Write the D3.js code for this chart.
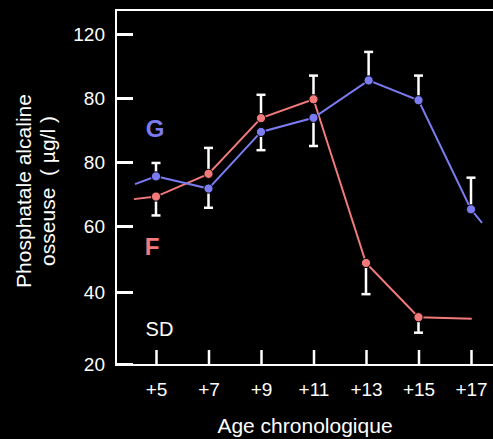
<!DOCTYPE html>
<html><head><meta charset="utf-8">
<script src="https://cdn.jsdelivr.net/npm/d3@7"></script>
<style>
html,body{margin:0;padding:0;background:#000;}
svg{display:block;font-family:"Liberation Sans",Arial,Helvetica,sans-serif;}
</style></head>
<body>
<svg id="chart" width="493" height="439"></svg>
<script>
// ---- data ----
const xTickValues = [5, 7, 9, 11, 13, 15, 17];
const xTickLabels = ["+5", "+7", "+9", "+11", "+13", "+15", "+17"];
const yTickValues = [120, 100, 80, 60, 40, 20];
const yTickLabels = ["120", "80", "80", "60", "40", "20"];

const gAges   = [5, 7, 9, 11, 13.1, 15, 17];
const gValues = [75.5, 71.7, 89.4, 93.8, 105.5, 99.3, 65.2];
const gSD     = [4.2, 6.0, 5.7, 8.8, 8.9, 7.7, 9.9];
const gSDDir  = [1, -1, -1, -1, 1, 1, 1];
const gLineStart = [4.2, 73.1];
const gLineEnd   = [17.42, 61.0];

const fAges   = [5, 7, 9, 11, 13, 15];
const fValues = [69.2, 76.3, 93.7, 99.6, 48.8, 33.0];
const fSD     = [5.9, 8.1, 7.3, 7.4, 9.4, 4.3];
const fSDDir  = [-1, 1, 1, 1, -1, -1];
const fLineStart = [4.16, 68.4];
const fLineEnd   = [17.03, 32.6];

const xTitle = "Age chronologique";
const yTitle = ["Phosphatale alcaline", "osseuse\u00a0\u00a0(\u00a0µg/l\u00a0)"];
const blue = "#7b7bf2", red = "#f27a7a";

// ---- scales ----
const x = d3.scaleLinear().domain([5, 17]).range([156, 471]);
const y = d3.scaleLinear().domain([20, 40, 60, 80, 100, 120]).range([364, 292, 226, 162, 98, 34]);

const svg = d3.select("#chart");
svg.append("rect").attr("width", 493).attr("height", 439).attr("fill", "#000");

const plotLeft = 116, plotTop = 10, plotBottom = 365;

// frame lines
svg.append("line").attr("x1", plotLeft).attr("x2", 493).attr("y1", plotTop).attr("y2", plotTop)
  .attr("stroke", "#fff").attr("stroke-width", 2);
svg.append("line").attr("x1", plotLeft).attr("x2", plotLeft).attr("y1", plotTop - 1).attr("y2", plotBottom + 1)
  .attr("stroke", "#fff").attr("stroke-width", 2);
svg.append("line").attr("x1", plotLeft - 1).attr("x2", 493).attr("y1", plotBottom).attr("y2", plotBottom)
  .attr("stroke", "#fff").attr("stroke-width", 2);

// y axis
const yAxis = d3.axisLeft(y).tickValues(yTickValues)
  .tickFormat((d, i) => yTickLabels[i]).tickSizeInner(-17).tickSizeOuter(0).tickPadding(11);
const gy = svg.append("g").attr("transform", `translate(${plotLeft},0)`).call(yAxis);
gy.select(".domain").remove();
gy.selectAll(".tick line").attr("stroke", "#fff").attr("stroke-width", 3);
gy.selectAll(".tick text").attr("fill", "#fff").style("font-size", "19px")
  .style("font-family", "'Liberation Sans',Arial,sans-serif");

// x axis
const xAxis = d3.axisBottom(x).tickValues(xTickValues)
  .tickFormat((d, i) => xTickLabels[i]).tickSizeInner(-15).tickSizeOuter(0).tickPadding(17.5);
const gx = svg.append("g").attr("transform", `translate(0,${plotBottom})`).call(xAxis);
gx.select(".domain").remove();
gx.selectAll(".tick line").attr("stroke", "#fff").attr("stroke-width", 2.5);
gx.selectAll(".tick text").attr("fill", "#fff").style("font-size", "19px")
  .style("font-family", "'Liberation Sans',Arial,sans-serif");

// titles
svg.append("text").attr("x", 305).attr("y", 433).attr("text-anchor", "middle")
  .attr("fill", "#fff").style("font-size", "21px").text(xTitle);
svg.selectAll("text.ytitle").data(yTitle).enter().append("text").attr("class", "ytitle")
  .attr("transform", "rotate(-90)").attr("x", -191).attr("y", (d, i) => 31 + i * 24)
  .attr("text-anchor", "middle").attr("fill", "#fff").style("font-size", "21px").text(d => d);

// series
const line = d3.line().x(d => x(d[0])).y(d => y(d[1]));
function drawSeries(ages, vals, sd, dir, start, end, color) {
  const pts = [start].concat(ages.map((a, i) => [a, vals[i]])).concat([end]);
  svg.append("path").datum(pts).attr("d", line).attr("fill", "none")
    .attr("stroke", color).attr("stroke-width", 2);
  const eb = svg.append("g");
  ages.forEach((a, i) => {
    const cx = x(a), y0 = y(vals[i]), y1 = y(vals[i] + dir[i] * sd[i]);
    eb.append("line").attr("x1", cx).attr("x2", cx).attr("y1", y0).attr("y2", y1)
      .attr("stroke", "#fff").attr("stroke-width", 2.5);
    eb.append("line").attr("x1", cx - 4.5).attr("x2", cx + 4.5).attr("y1", y1).attr("y2", y1)
      .attr("stroke", "#fff").attr("stroke-width", 2.5);
  });
  return ages.map((a, i) => ({cx: x(a), cy: y(vals[i]), color}));
}
const dots = drawSeries(fAges, fValues, fSD, fSDDir, fLineStart, fLineEnd, red)
  .concat(drawSeries(gAges, gValues, gSD, gSDDir, gLineStart, gLineEnd, blue));
svg.append("g").selectAll("circle").data(dots).enter().append("circle")
  .attr("cx", d => d.cx).attr("cy", d => d.cy).attr("r", 4.6)
  .attr("fill", d => d.color).attr("stroke", "#000").attr("stroke-width", 1);

// labels
svg.append("text").attr("x", 155).attr("y", 136.5).attr("text-anchor", "middle")
  .attr("fill", blue).style("font-size", "24px").style("font-weight", "bold").text("G");
svg.append("text").attr("x", 152).attr("y", 255).attr("text-anchor", "middle")
  .attr("fill", red).style("font-size", "24px").style("font-weight", "bold").text("F");
svg.append("text").attr("x", 159.5).attr("y", 336).attr("text-anchor", "middle")
  .attr("fill", "#fff").style("font-size", "20px").text("SD");
</script>
</body></html>
